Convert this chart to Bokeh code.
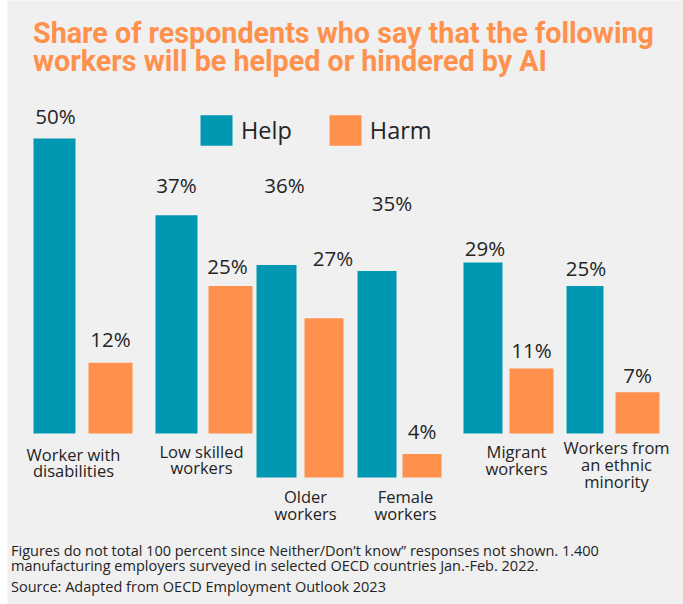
from bokeh.plotting import figure
from bokeh.models import Range1d, ColumnDataSource, Label, Legend, LegendItem
from bokeh.core.properties import value
from bokeh.embed import file_html
from bokeh.resources import INLINE

# ---------------- data ----------------
categories = ["Worker with\ndisabilities", "Low skilled\nworkers", "Older\nworkers",
              "Female\nworkers", "Migrant\nworkers", "Workers from\nan ethnic\nminority"]
help_vals = [50, 37, 36, 35, 29, 25]
harm_vals = [12, 25, 27, 4, 11, 7]
series = ["Help", "Harm"]

# ---------------- styles / layout ----------------
BG = "#f0f0f0"
TEAL = "#0097b2"
ORANGE = "#ff914d"
TXT = "#242424"
FONT = "Open Sans"
TITLE_FONT = "Roboto"

W, H = 683, 604
LEFT = 7             # white strip on the left
BASE_PX = 433.0      # page pixel of the main baseline
PX_PER_PCT = 5.9     # pixels per percentage point


def Y(py):
    """page pixel row -> data units"""
    return (BASE_PX - py) / PX_PER_PCT


LOW = Y(477)                     # lowered baseline of two middle groups
bottoms = [0, 0, LOW, LOW, 0, 0]
help_x = [54, 176, 276, 376.5, 482.5, 584.5]
help_w = [42, 42, 40, 39, 39, 37]
harm_x = [110, 230, 323.5, 421.5, 531, 637]
harm_w = [44, 44, 39, 39, 44, 44]
help_lab_dx = [1, 0, 8, 15, 2, 1]
harm_lab_dx = [0, -3, 9, 0, 0, 0]
help_lab_dy = [23, 30, 80, 68, 14, 18]     # px above bar top
harm_lab_dy = [24, 20, 60, 23, 19, 17]
cat_x = [73, 201, 305, 405, 516, 616]
cat_y = [462, 459, 504.5, 504.5, 459.5, 464]

p = figure(width=W, height=H,
           x_range=Range1d(LEFT, W), y_range=Range1d(Y(H), Y(0)),
           x_axis_type=None, y_axis_type=None,
           output_backend="svg", toolbar_location=None, min_border=0,
           min_border_left=LEFT,
           background_fill_color=BG, border_fill_color="white",
           outline_line_color=None)
p.grid.visible = False

help_src = ColumnDataSource(dict(
    x=help_x, w=help_w, b=bottoms,
    t=[b + v for b, v in zip(bottoms, help_vals)],
    lx=[x + d for x, d in zip(help_x, help_lab_dx)],
    ly=[b + v + d / PX_PER_PCT for b, v, d in zip(bottoms, help_vals, help_lab_dy)],
    lab=[f"{v}%" for v in help_vals]))
harm_src = ColumnDataSource(dict(
    x=harm_x, w=harm_w, b=bottoms,
    t=[b + v for b, v in zip(bottoms, harm_vals)],
    lx=[x + d for x, d in zip(harm_x, harm_lab_dx)],
    ly=[b + v + d / PX_PER_PCT for b, v, d in zip(bottoms, harm_vals, harm_lab_dy)],
    lab=[f"{v}%" for v in harm_vals]))

r_help = p.vbar(x="x", width="w", bottom="b", top="t", source=help_src,
                fill_color=TEAL, line_color=None)
r_harm = p.vbar(x="x", width="w", bottom="b", top="t", source=harm_src,
                fill_color=ORANGE, line_color=None)

for src in (help_src, harm_src):
    p.text(x="lx", y="ly", text="lab", source=src, text_align="center",
           text_baseline="middle", text_font=value(FONT), text_font_size="20.5px",
           text_color=TXT)

cat_src = ColumnDataSource(dict(x=cat_x, y=[Y(v) for v in cat_y], text=categories))
p.text(x="x", y="y", text="text", source=cat_src, text_align="center",
       text_baseline="middle", text_font=value(FONT), text_font_size="16.5px",
       text_line_height=0.72, text_color=TXT)

# title
for txt, py in (("Share of respondents who say that the following", 32),
                ("workers will be helped or hindered by AI", 60)):
    p.add_layout(Label(x=32.5, y=Y(py), text=txt, text_baseline="middle",
                       text_font=TITLE_FONT, text_font_style="bold",
                       text_font_size="28.7px", text_color=ORANGE))

# footnotes
for txt, py in (("Figures do not total 100 percent since Neither/Don\u2019t know\u201d responses not shown. 1.400", 550),
                ("manufacturing employers surveyed in selected OECD countries Jan.-Feb. 2022.", 565),
                ("Source: Adapted from OECD Employment Outlook 2023", 586)):
    p.add_layout(Label(x=10.5, y=Y(py), text=txt, text_baseline="middle",
                       text_font=FONT, text_font_size="14.5px", text_color=TXT))

legend = Legend(items=[LegendItem(label=series[0], renderers=[r_help]),
                       LegendItem(label=series[1], renderers=[r_harm])],
                location=(196 - LEFT, H - 148.75), orientation="horizontal",
                glyph_width=40, glyph_height=38, label_standoff=5, spacing=33,
                padding=0, margin=0, border_line_color=None,
                background_fill_alpha=0, label_text_font=FONT,
                label_text_font_size="23.5px", label_text_color=TXT)
p.add_layout(legend)

open("out.html", "w").write(file_html(p, INLINE))
